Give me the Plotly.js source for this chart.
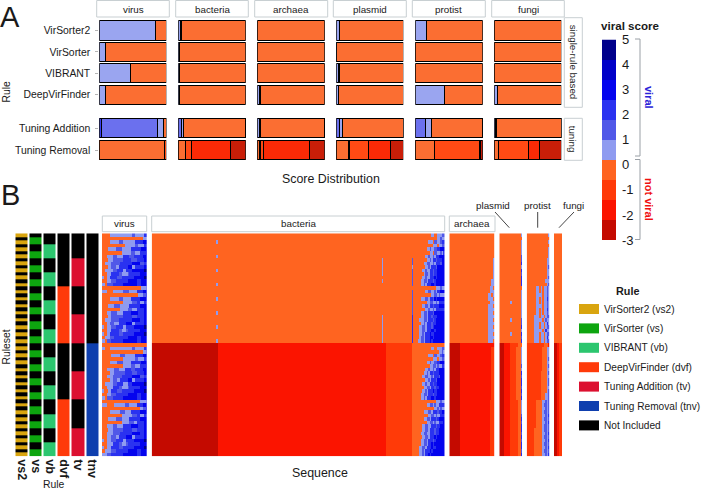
<!DOCTYPE html>
<html><head><meta charset="utf-8">
<script src="https://cdn.plot.ly/plotly-3.0.1.min.js"></script>
<style>html,body{margin:0;padding:0;background:#fff}</style></head>
<body><div id="chart" style="width:702px;height:490px"></div>
<script>
// ---------- Panel A data: share of sequences per score level ----------
const facets = ['virus','bacteria','archaea','plasmid','protist','fungi'];
const rulesTop = ['VirSorter2','VirSorter','VIBRANT','DeepVirFinder'];
const rulesBottom = ['Tuning Addition','Tuning Removal'];
const barLevels = ['b','m','l','o','r','s','t'];
// columns follow barLevels; rows follow rulesTop + rulesBottom
const virusShares    = [[0,0,.84,.16,0,0,0],[0,0,.09,.91,0,0,0],[0,0,.47,.53,0,0,0],[0,0,.09,.91,0,0,0],[.035,.83,.095,.04,0,0,0],[0,0,0,.97,.03,0,0]];
const bacteriaShares = [[0,0,.04,.96,0,0,0],[0,0,.02,.98,0,0,0],[0,0,.02,.98,0,0,0],[0,0,.015,.985,0,0,0],[0,.05,.03,.92,0,0,0],[0,0,0,.11,.09,.57,.23]];
const archaeaShares  = [[0,0,0,1,0,0,0],[0,0,0,1,0,0,0],[0,0,0,1,0,0,0],[0,0,.04,.96,0,0,0],[0,0,.04,.96,0,0,0],[0,0,0,.04,.05,.68,.23]];
const plasmidShares  = [[0,0,.05,.95,0,0,0],[0,0,.008,.992,0,0,0],[0,0,.04,.96,0,0,0],[0,0,.03,.97,0,0,0],[0,.05,.04,.91,0,0,0],[0,0,0,.19,.29,.33,.19]];
const protistShares  = [[0,0,.16,.84,0,0,0],[0,0,0,1,0,0,0],[0,0,0,1,0,0,0],[0,0,.43,.57,0,0,0],[0,.15,.09,.76,0,0,0],[0,0,0,.28,.68,0,.04]];
const fungiShares    = [[0,0,0,1,0,0,0],[0,0,0,1,0,0,0],[0,0,0,1,0,0,0],[0,0,.05,.95,0,0,0],[0,0,.025,.975,0,0,0],[0,0,0,.06,.45,.17,.32]];
const allShares = [virusShares,bacteriaShares,archaeaShares,plasmidShares,protistShares,fungiShares];

// ---------- Panel B data: ruleset membership ----------
const ruleCodes = ['vs2','vs','vb','dvf','tv','tnv'];
const ruleNames = ['VirSorter2 (vs2)','VirSorter (vs)','VIBRANT (vb)','DeepVirFinder (dvf)','Tuning Addition (tv)','Tuning Removal (tnv)','Not Included'];
const colVs2 = '101010101010101010101010101010101010101010101010101010101010101';
const colVs  = '011001100110011001100110011001100110011001100110011001100110011';
const colVb  = '000111100001111000011110000111100001111000011110000111100001111';
const colDvf = '000000000000000111111111111111100000000000000001111111111111111';
const colTv  = '000000011111111000000001111111100000000111111110000000011111111';
const colTnv = '000000000000000000000000000000011111111111111111111111111111111';
const ruleCols = [colVs2,colVs,colVb,colDvf,colTv,colTnv];

// ---------- Panel B data: score per sequence, run-length written by row ----------
const virusRows = ['o5l15m2l6b2','o27l3','o5l6m3l8b5d3','o15l7m2l4b2','o4l5m4l6b7d4','o13l6m3l3b4d1','o3l4m3l4b4m3b6d3','o4l3m7b5m4b5d2','o2l4m6b8d5m3b2','o4l2m3l2b6d3l2b6d2','o2l5m3b4l2b4d8n2','o3l3b5m2l4m1b7d5','l1o2l2b5m3b8d7n2','o3l3m3b8d6b3d4','l2o1m4b7d9b3d4',
'o26l3m1','l3o4l7m4l5b4d3','o24l3m2d1','o5l6m3l5b6d5','o14l6m3b2l3b2','o4l4m4l6b7d5','o12l5m3l3b5d2','o3l3m4l4b5d5b4d2','o4l2m8b6m3b5d2','o2l4m5b9d5b3d2','o3l2m3l3b5d4l2b6d2','l1o2l3m3b5l2b5d7n2','o3l3b5m2l3m1b8d5','l1o2l2b6m3b7d7n2','o2l3m3b9d6b3d4','l2o1m3b8d9b3d4',
'o29r1','l2o3l15m2l6b2','o27l2m1','o6l6m3l7b5d3','o14l8m2l4b2','o5l5m4l5b7d4','o14l5m3l3b4d1','o3l5m3l4b4m3b5d3','o5l3m7b5m3b5d2','o3l4m6b7d5m3b2','o5l2m3l2b5d3l2b6d2','o2l5m3b4l3b3d8n2','o3l4b4m2l4m1b7d5','l1o3l2b4m3b8d7n2','o3l3m3b8d6b3d4','l2o1m4b7d9b3d4',
'o25l4m1','l3o5l7m3l5b4d3','o25l2m2d1','o5l7m3l4b6d5','o13l7m3b2l3b2','o4l5m4l5b7d5','o13l5m3l2b5d2','o3l4m3l4b5d5b4d2','o4l3m7b6m3b5d2','o3l4m5b8d5b3d2','o3l3m3l2b5d4l2b6d2','l1o2l3m3b5l2b5d7n2','o3l4b4m2l3m1b8d5','l1o2l3b5m3b7d7n2','o2l4m3b8d6b3d4','l3m3b8d9b3d4'];
const bacteriaRows = ['o186l2o2l3m2','o190l2m1l2','o43l1o140l3o1m2l2m1b1','o187l3o1l2m2','o183l2m1l2m2b2d1','o185l2o1m2l2m1l1b1','o43l1o138l2m1l2m1l1b2d2','o153l1o19m1o9l2m1l1b2m1b3d2','o153l1o19m1o7l2m2l2m1l1b3m1d2','o153l1o19l1o8l2m1l1b3m1d3','o43l1o109l1o19m1o6l2m1l2b2m1b2d4','o153l1o19m1o7l1m2l1b2m1b2d4','o173m1o6l2m1l2b3d1b1d5','o153l1o19m1o5l2m2l1b3m1b1d6','o43l1o129m1o5l2m1l1b3d2b1d6',
'o189l3m1l2','o173m1o8l2m2l2m1l1b2d1','o173m1o12l2m2l1m1l1','o43l1o129m1o5l3m2l1b2m1d1b1d2','o173m1o9l2m2l2m1l1b2','o173m1o6l2m2l1b2m1b3d2','o173m1o8l2m1l2m1l1b3','o43l1o129m1o5l2m2l1b3m1d5','o153l1o19b1o5l2m2l1b2m1b3d3','o153l1o19b1o4l3m2l1b3m1b1d4','o153l1o19b1o5l2m1l1b3m1b2d4','o43l1o109l1o19b1o4l2m2l1b3m1b1d5','o153l1o19b1o4l2m2l1b3d2b1d5','o153l1o19b1o4l2m1l1b3d1b2d6','o153l1o19b1o4l1m2l1b3d2b1d6','o43l1o109l1o19b1o3l2m2l1b3d1b1d7',
't44s112r17o22','t44s112r17o13l2o2l3m2','t44s112r17o18l2m1l1','t44s112r17o11l3o1m2l2m1b1','t44s112r17o14l3o1l2m2','t44s112r17o10l2m1l2m2b2d1','t44s112r17o12l2m2l1m1l2b1','t44s112r17o9l2m1l2m1l1b2d2','t44s112r17o8l2m1l1b2m1b3d2','t44s112r17o7l2m2l2m1l1b3m1d2','t44s112r17o9l2m1l1b3m1d3','t44s112r17o7l2m1l2b2m1b2d3','t44s112r17o8l2m2l1b2m1b2d3','t44s112r17o7l2m1l1b3d1b2d5','t44s112r17o6l2m2l1b3m1b2d5','t44s112r17o6l2m1l1b3d2b1d6',
't44s112r17o16l3m1l2','t44s112r17o10l2m2l1m1l2b2','t44s112r17o15l2m1l1m1l2','t44s112r17o8l3m2l1b3m1b2d2','t44s112r17o11l2m2l1m1l2b2','t44s112r17o8l2m2l1b3m1b1d4','t44s112r17o10l2m2l1m1l2b3d1','t44s112r17o7l2m2l2b3m1b2d3','t44s112r17o7l2m2l1b3m1b2d4','t44s112r17o6l2m2l2b3m1b2d4','t44s112r17o7l2m2l1b3d1b1d5','t44s112r17o6l2m2l1b3m1b1d6','t44s112r17o6l2m2l1b2d1b1d7','t44s112r17o5l2m2l1b3d1b2d6','t44s112r17o5l2m1l1b3d1b1d8','t44s112r17o5l2m1l1b2d1b1d9'];
const archaeaRows = ['o30','o30','o30','o30','o30','o30','o30','o29l1','o29l1','o29l1','o29l1','o29l1','o29l1','o28l2','o28l2',
'o27l2o1','o27l3','o26l2o1l1','o26l3o1','o27l3','o26l3o1','o26l4','o26l3o1','o26l4','o26l3o1','o26l4','o26l3o1','o26l4','o26l3o1','o26l4','o26l3o1',
't7s23','t7s21r2','t7s21r2','t7s21r2','t7s21r2','t7s21r2','t7s21r2','t7s21r2','t7s21r2','t7s21r2','t7s21r2','t7s21r2','t7s21r2','t7s21r2','t7s21r2','t7s21r2',
't7s20r3','t7s20r3','t7s20r3','t7s20r3','t7s20r3','t7s20r3','t7s20r3','t7s20r3','t7s20r3','t7s20r3','t7s20r3','t7s20r3','t7s20r3','t7s20r3','t7s20r3','t7s20r3'];
const plasmidRows = ['o14l1','o15','o14l1','o14l1','o14l1','o14l1','o14m1','o14m1','o14b1','o14l1','o14b1','o14m1','o14b1','o14b1','o14b1',
'o15','o14l1','o14l1','o14l1','o7l1o6l1','o14l1','o14l1','o14l1','o14l1','o7l1o6m1','o14m1','o14b1','o14l1','o7l1o6b1','o14m1','o14b1',
't3s4r5o3','t3s4r4o3l1','t3s4r4o3l1','t3s4r4o3l1','t3s4r4o3l1','t3s4r4o3l1','t3s4r4o3m1','t3s4r4o3l1','t3s4r4o3b1','t3s4r4o3m1','t3s4r4o3b1','t3s4r4o3b1','t3s4r4o3m1','t3s4r4o3b1','t3s4r4o3m1','t3s4r4o3b1',
't3s4r5o2l1','t3s4r5o2l1','t3s4r5o2l1','t3s4r5o2l1','t3s4r5o2m1','t3s4r5o2b1','t3s4r5o2m1','t3s4r5o2b1','t3s4r5o2b1','t3s4r5o2m1','t3s4r5o2b1','t3s4r5o2m1','t3s4r5o2b1','t3s4r5o2b1','t3s4r5o2m1','t3s4r5o2b1'];
const protistRows = ['o14l1','o15','o14l1','o15','o14l1','o14l1','o14l1','o13l2','o13l2','o13l1m1','o13l2','o13l2','o13l1m1','o12l3','o13l1m1',
'o6l2o1l1o1l2m1l1','o6l2o1l1o1l2m1l1','o6l3l1o1l2m1l1','o6l2o1l1o1l1l1b1l1','o6l2o1l1o1l2m1l1','o6l3l1o1l2m1l1','o6l2o1l1o1l1l1b1l1','o6l2o1l1o1l2m1l1','o5l3o1l2o1l1m2','o5l4l1o1l1m1l1l1','o5l3o1l2o1l1b1l1','o5l3o1l2o1l1m2','o5l4l1o1l1b1l1l1','o5l3o1l2o1l1m2','o5l3o1l2o1l1b1l1','o5l3o1l2o1l1m2',
'r11o3s1','r10o3l2','r10o3l2','r10o3l2','r10o3l1m1','r10o3l2','r10o3l1m1','r10o3l2','r9o4l1m1','r9o4l2','r9o4l1m1','r9o4l1m1','r9o4l2','r9o4l1m1','r9o3l2m1','r9o3l2m1',
'r6o4l2m1l1m1','r6o4l1m2l1m1','r6o4l2m1l1m1','r6o4l1m2l1m1','r6o4l2m1l1b1','r6o4l1m2l1m1','r6o4l2m1l1b1','r6o4l1m2l1m1','r5o5l1m2l1m1','r5o5l2m1l1b1','r5o5l1m2l1m1','r5o5l2m1l1b1','r5o5l1m2l1m1','r5o5l2m1l1b1','r5o5l1m2l1m1','r5o5l2m1l1b1'];
const fungiRows = ['o5','o5','o5','o5','o5','o5','o5','o5','o5','o5','o5','o5','o5','o5','o5','o5','o5','o5','o5','o5','o5','o5','o5','o5','o5','o5','o5','o5','o5','o5','o5',
't2s1r2','t2s1r2','t2s1r2','t2s1r2','t2s1r2','t2s1r2','t2s1r2','t2s1r2','t2s1r2','t2s1r2','t2s1r2','t2s1r2','t2s1r2','t2s1r2','t2s1r2','t2s1r2','t2s1r2','t2s1r2','t2s1r2','t2s1r2','t2s1r2','t2s1r2','t2s1r2','t2s1r2','t2s1r2','t2s1r2','t2s1r2','t2s1r2','t2s1r2','t2s1r2','t2s1r2','t2s1r2'];
const allRows = [virusRows,bacteriaRows,archaeaRows,plasmidRows,protistRows,fungiRows];
const facetCols = [30,195,30,15,15,5];

// ---------- Legend and scale labels ----------
const scaleLabels = ['-3','-2','-1','0','1','2','3','4','5'];
const scaleLevels = ['t','s','r','o','l','m','b','d','e','n'];
const scaleColors = ['#c40a00','#fb1400','#ff3a08','#ff6420','#8f9bf0','#5058e8','#2a32f0','#0404ee','#0000c8','#00008b'];
const barColors = {b:'#3a40ee',m:'#6b70ee',l:'#9aa5f0',o:'#fb6e32',r:'#ff4a14',s:'#fb2a06',t:'#c91e08'};
const ruleColors = ['#000000','#d9a50f','#0da50f','#2cc66f','#ff3a0a','#dc1030','#0f3fae'];

// ---------- Layout helpers (pixel to paper) ----------
const W=702,H=490,FONT='Liberation Sans, Arial, sans-serif',INK='#1a1a1a';
const px=v=>v/W, py=v=>1-v/H;
const dom=(a,b)=>[px(a),px(b)];
const domY=(top,bot)=>[py(bot),py(top)];
const shapes=[],annotations=[];
const box=(x0,y0,x1,y1,o={})=>shapes.push({type:'rect',xref:'paper',yref:'paper',x0:px(x0),x1:px(x1),y0:py(y0),y1:py(y1),line:{color:o.line||'#c8cfd2',width:o.lw===undefined?1:o.lw},fillcolor:o.fill||'#fff',layer:'above'});
const seg=(x0,y0,x1,y1,color='#9aa0a6')=>shapes.push({type:'line',xref:'paper',yref:'paper',x0:px(x0),x1:px(x1),y0:py(y0),y1:py(y1),line:{color,width:1},layer:'above'});
const note=(text,x,y,size,o={})=>annotations.push({text,x:px(x),y:py(y),xref:'paper',yref:'paper',showarrow:false,xanchor:o.anchor||'center',yanchor:'middle',textangle:o.angle||0,font:{family:FONT,size,color:o.color||INK},borderpad:0});

const data=[],layout={width:W,height:H,margin:{l:0,r:0,t:0,b:0},paper_bgcolor:'#fff',plot_bgcolor:'#fff',barmode:'stack',bargap:.1,showlegend:false,shapes,annotations,font:{family:FONT,color:INK}};
const hidden=(o)=>Object.assign({showgrid:false,zeroline:false,showline:false,showticklabels:false,ticks:'',fixedrange:true},o);

// ---------- Panel A ----------
const barX=[[99.3,166.3],[178.3,245.7],[257.3,324.7],[336.3,403.3],[415.3,482.7],[494.3,561.3]];
const stripX=[[96.7,169.3],[175.7,248.3],[254.7,327.7],[333.3,406.3],[412.3,485.3],[491.7,564.3]];
facets.forEach((name,f)=>{
  const xn=f+1;
  layout['xaxis'+xn]=hidden({domain:dom(...barX[f]),range:[0,1],anchor:'y'});
  barLevels.forEach((lev,k)=>{
    [[rulesTop,0,'y'],[rulesBottom,4,'y2']].forEach(([labels,offset,ya])=>{
      const vals=labels.map((_,r)=>allShares[f][r+offset][k]);
      if(vals.every(v=>!v))return;
      data.push({type:'bar',orientation:'h',x:vals,y:labels,xaxis:'x'+xn,yaxis:ya,cliponaxis:false,hoverinfo:'skip',
        marker:{color:barColors[lev],line:{color:'#000',width:1.1}}});
    });
  });
  box(stripX[f][0],0.5,stripX[f][1],17);
  note(name,(stripX[f][0]+stripX[f][1])/2,9,9.8);
});
const yAxisA=(labels,top,bot)=>({domain:domY(top,bot),type:'category',categoryorder:'array',categoryarray:labels,range:[labels.length-.5,-.5],anchor:'x',fixedrange:true,showgrid:false,zeroline:false,showline:false,ticks:'outside',ticklen:3,tickwidth:1,tickcolor:'#b5b5b5',ticklabelstandoff:3,tickfont:{family:FONT,size:10.4,color:INK},automargin:false});
layout.yaxis=yAxisA(rulesTop,19.8,105.4);
layout.yaxis2=yAxisA(rulesBottom,117,161);
box(564.3,17.7,582.3,107.3);box(564.3,118.3,582.3,160.3);
note('single-rule based',573.3,62,9.8,{angle:90});
note('tuning',573.3,139,9.8,{angle:90});
note('Rule',5.5,92,10.4,{angle:-90});
note('Score Distribution',330.5,178.5,12.4);
note('A',10,17,29);note('B',10,195,29);

// ---------- Panel B: rule matrix ----------
const ruleZ=colVs2.split('').map((_,row)=>ruleCols.map((c,j)=>c[row]==='1'?j+1:0));
const step=(cols)=>{const out=[];cols.forEach((c,i)=>{out.push([i/cols.length,c],[(i+1)/cols.length,c]);});return out;};
const rowIdx=ruleZ.map((_,i)=>i);
data.push({type:'heatmap',z:ruleZ,x:ruleCodes.map((_,i)=>i),y:rowIdx,xaxis:'x7',yaxis:'y3',zmin:-.5,zmax:6.5,colorscale:step(ruleColors),showscale:false,xgap:2,hoverinfo:'skip'});
layout.xaxis7={domain:dom(14.5,99.2),range:[-.5,5.5],anchor:'y3',tickmode:'array',tickvals:ruleCodes.map((_,i)=>i),ticktext:ruleCodes.map(c=>'<b>'+c+'</b>'),tickangle:90,ticks:'',ticklen:0,ticklabelstandoff:2,showgrid:false,zeroline:false,showline:false,tickfont:{family:FONT,size:12.5,color:INK},fixedrange:true};
layout.yaxis3=hidden({domain:domY(233.3,456.3),range:[62.5,-.5],anchor:'x7'});
note('Rule',54,484,10.4);
note('Ruleset',5.5,347,10.4,{angle:-90});

// ---------- Panel B: sequence heatmaps ----------
const heatX=[[102,146.7],[151.7,444.7],[449.3,494.7],[499.3,522],[526.7,549.3],[554,562]];
const decode=(s,n)=>{const out=[];for(const m of s.matchAll(/([a-z])(\d+)/g)){for(let i=0;i<+m[2];i++)out.push(scaleLevels.indexOf(m[1]));}
  while(out.length<n)out.push(out[out.length-1]);return out.slice(0,n);};
facets.forEach((name,f)=>{
  const xn=8+f,n=facetCols[f];
  data.push({type:'heatmap',z:allRows[f].map(r=>decode(r,n)),xaxis:'x'+xn,yaxis:'y3',y:rowIdx,zmin:-.5,zmax:9.5,colorscale:step(scaleColors),showscale:false,hoverinfo:'skip'});
  layout['xaxis'+xn]=hidden({domain:dom(...heatX[f]),range:[-.5,n-.5],anchor:'y3'});
});
[['virus',102.3,146.7],['bacteria',151.7,444.7],['archaea',449.3,495]].forEach(([t,a,b])=>{box(a,216,b,231.7);note(t,(a+b)/2,224,9.8);});
note('plasmid',493.5,206,9.8);seg(495,212,509.3,227.7,'#444');
note('protist',537,206,9.8);seg(537.7,212,537.7,227.7,'#444');
note('fungi',573,206,9.8);seg(574,212,559,227.7,'#444');
note('Sequence',320,472.5,12.4);

// ---------- Viral score scale ----------
data.push({type:'heatmap',z:scaleLevels.map((_,i)=>[i]),x:[0],y:scaleLevels.map((_,i)=>i),xaxis:'x14',yaxis:'y4',zmin:-.5,zmax:9.5,colorscale:step(scaleColors),showscale:false,hoverinfo:'skip'});
layout.xaxis14=hidden({domain:dom(602,616),range:[-.5,.5],anchor:'y4'});
layout.yaxis4={domain:domY(39.5,240),range:[-.5,9.5],anchor:'x14',side:'right',tickmode:'array',tickvals:scaleLabels.map((_,i)=>-.5+i*1.25),ticktext:scaleLabels,ticks:'',ticklen:0,ticklabelstandoff:5,showgrid:false,zeroline:false,showline:false,tickfont:{family:FONT,size:13,color:INK},fixedrange:true};
note('<b>viral score</b>',630.5,26,11.6);
seg(635,39,640,39);seg(640,39,640,156);seg(635,156,640,156);
seg(635,159.5,640,159.5);seg(640,159.5,640,239.5);seg(635,239.5,640,239.5);
note('<b>viral</b>',649,97,11,{angle:90,color:'#2a22d8'});
note('<b>not viral</b>',649,199,11,{angle:90,color:'#f01010'});

// ---------- Rule legend ----------
note('<b>Rule</b>',615,291,10.8,{anchor:'left'});
const legendSwatch=[ruleColors[1],ruleColors[2],ruleColors[3],ruleColors[4],ruleColors[5],ruleColors[6],ruleColors[0]];
ruleNames.forEach((t,i)=>{
  const y=309+i*19.4;
  box(579,y-5,599,y+5,{fill:legendSwatch[i],line:legendSwatch[i],lw:0});
  note(t,603,y,10.1,{anchor:'left'});
});

Plotly.newPlot('chart',data,layout,{displayModeBar:false,staticPlot:true});
</script></body></html>
